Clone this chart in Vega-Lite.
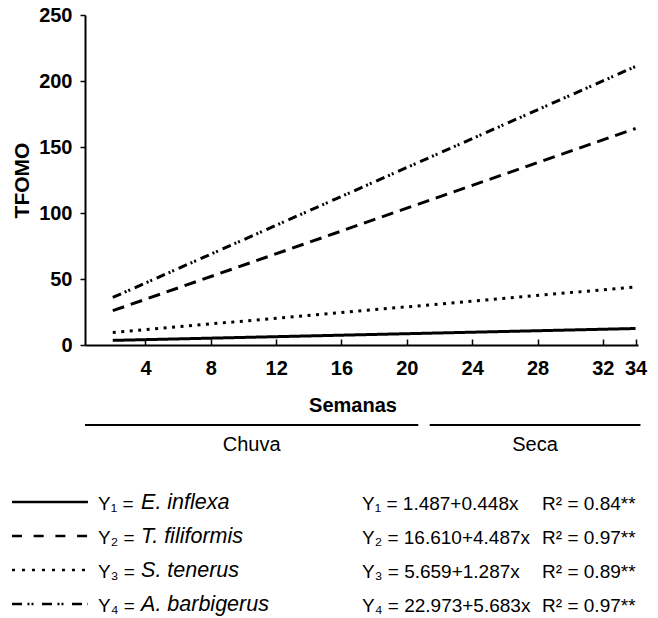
{
  "$schema": "https://vega.github.io/schema/vega-lite/v6.json",
  "width": 658,
  "height": 618,
  "autosize": {"type": "none"},
  "padding": 0,
  "background": "white",
  "config": {"view": {"stroke": null}, "font": "Liberation Sans"},
  "datasets": {
    "linhas": [
      {"serie": "Y1", "semana": 2, "tfomo": 3.5},
      {"serie": "Y1", "semana": 34, "tfomo": 12.5},
      {"serie": "Y2", "semana": 2, "tfomo": 26},
      {"serie": "Y2", "semana": 34, "tfomo": 164},
      {"serie": "Y3", "semana": 2, "tfomo": 9.5},
      {"serie": "Y3", "semana": 34, "tfomo": 44},
      {"serie": "Y4", "semana": 2, "tfomo": 36},
      {"serie": "Y4", "semana": 34, "tfomo": 211}
    ],
    "periodos": [
      {"periodo": "Chuva", "inicio": 0.3, "fim": 20.7, "meio": 10.5},
      {"periodo": "Seca", "inicio": 21.4, "fim": 34.3, "meio": 27.85}
    ],
    "legenda": [
      {"serie": "Y1", "rotulo": "Y₁ =", "especie": "E. inflexa", "equacao": "Y₁ = 1.487+0.448x", "r2": "R² = 0.84**"},
      {"serie": "Y2", "rotulo": "Y₂ =", "especie": "T. filiformis", "equacao": "Y₂ = 16.610+4.487x", "r2": "R² = 0.97**"},
      {"serie": "Y3", "rotulo": "Y₃ =", "especie": "S. tenerus", "equacao": "Y₃ = 5.659+1.287x", "r2": "R² = 0.89**"},
      {"serie": "Y4", "rotulo": "Y₄ =", "especie": "A. barbigerus", "equacao": "Y₄ = 22.973+5.683x", "r2": "R² = 0.97**"}
    ]
  },
  "layer": [
    {
      "data": {"name": "linhas"},
      "mark": {"type": "line", "color": "black", "strokeWidth": 3, "strokeCap": "butt"},
      "encoding": {
        "x": {
          "field": "semana", "type": "quantitative", "title": "Semanas",
          "scale": {"domain": [0.3, 34.15], "range": [85, 638], "nice": false, "zero": false},
          "axis": {
            "orient": "bottom", "offset": -273, "values": [4, 8, 12, 16, 20, 24, 28, 32, 34],
            "grid": false, "tickSize": -6, "tickWidth": 1.5, "tickColor": "black",
            "domainColor": "black", "domainWidth": 2,
            "labelFont": "Liberation Sans", "labelFontWeight": "bold", "labelFontSize": 20, "labelColor": "black",
            "labelPadding": 19, "labelFlush": false, "labelOverlap": false,
            "titleFont": "Liberation Sans", "titleFontWeight": "bold", "titleFontSize": 20, "titleColor": "black",
            "titlePadding": 17, "titleX": 352.5, "titleAlign": "center"
          }
        },
        "y": {
          "field": "tfomo", "type": "quantitative", "title": "TFOMO",
          "scale": {"domain": [0, 250], "range": [345, 15], "nice": false},
          "axis": {
            "orient": "left", "offset": -85, "values": [0, 50, 100, 150, 200, 250],
            "grid": false, "tickSize": 5, "tickWidth": 1.5, "tickColor": "black",
            "domainColor": "black", "domainWidth": 2,
            "labelFont": "Liberation Sans", "labelFontWeight": "bold", "labelFontSize": 20, "labelColor": "black",
            "labelPadding": 8,
            "titleFont": "Liberation Sans", "titleFontWeight": "bold", "titleFontSize": 21, "titleColor": "black",
            "titlePadding": 6
          }
        },
        "detail": {"field": "serie"},
        "strokeDash": {
          "field": "serie", "type": "nominal", "legend": null,
          "scale": {"domain": ["Y1", "Y2", "Y3", "Y4"], "range": [[1, 0], [12, 7], [3, 5.5], [9, 4, 2, 2, 2, 5]]}
        }
      }
    },
    {
      "data": {"name": "periodos"},
      "mark": {"type": "rule", "color": "black", "strokeWidth": 2},
      "encoding": {
        "x": {"field": "inicio", "type": "quantitative", "title": "Semanas"},
        "x2": {"field": "fim"},
        "y": {"datum": 0, "type": "quantitative", "scale": {"domain": [0, 1], "range": [425, 445]}, "axis": null}
      }
    },
    {
      "data": {"name": "periodos"},
      "mark": {"type": "text", "font": "Liberation Sans", "fontSize": 20, "color": "black", "align": "center", "baseline": "middle"},
      "encoding": {
        "x": {"field": "meio", "type": "quantitative", "title": "Semanas"},
        "y": {"datum": 1, "type": "quantitative", "scale": {"domain": [0, 1], "range": [425, 445]}, "axis": null},
        "text": {"field": "periodo"}
      }
    },
    {
      "data": {"name": "legenda"},
      "mark": {"type": "rule", "color": "black", "strokeWidth": 2.5, "strokeCap": "butt"},
      "encoding": {
        "x": {"datum": -4.17, "type": "quantitative"},
        "x2": {"datum": 0.48},
        "y": {"field": "serie", "type": "nominal", "scale": {"type": "point", "range": [502, 604], "padding": 0}, "axis": null},
        "strokeDash": {
          "field": "serie", "type": "nominal", "legend": null,
          "scale": {"domain": ["Y1", "Y2", "Y3", "Y4"], "range": [[1, 0], [10, 11.7], [3, 7], [10, 5.5, 2, 2, 2, 8.5]]}
        }
      }
    },
    {
      "data": {"name": "legenda"},
      "mark": {"type": "text", "font": "Liberation Sans", "fontSize": 19, "color": "black", "align": "left", "baseline": "middle"},
      "encoding": {
        "x": {"datum": 1.1, "type": "quantitative"},
        "y": {"field": "serie", "type": "nominal", "scale": {"type": "point", "range": [504, 606], "padding": 0}, "axis": null},
        "text": {"field": "rotulo"}
      }
    },
    {
      "data": {"name": "legenda"},
      "mark": {"type": "text", "font": "Liberation Sans", "fontSize": 21.5, "fontStyle": "italic", "color": "black", "align": "left", "baseline": "middle"},
      "encoding": {
        "x": {"datum": 3.73, "type": "quantitative"},
        "y": {"field": "serie", "type": "nominal", "scale": {"type": "point", "range": [503, 605], "padding": 0}, "axis": null},
        "text": {"field": "especie"}
      }
    },
    {
      "data": {"name": "legenda"},
      "mark": {"type": "text", "font": "Liberation Sans", "fontSize": 19, "color": "black", "align": "left", "baseline": "middle"},
      "encoding": {
        "x": {"datum": 17.26, "type": "quantitative"},
        "y": {"field": "serie", "type": "nominal", "scale": {"type": "point", "range": [504, 606], "padding": 0}, "axis": null},
        "text": {"field": "equacao"}
      }
    },
    {
      "data": {"name": "legenda"},
      "mark": {"type": "text", "font": "Liberation Sans", "fontSize": 19, "color": "black", "align": "left", "baseline": "middle"},
      "encoding": {
        "x": {"datum": 28.28, "type": "quantitative"},
        "y": {"field": "serie", "type": "nominal", "scale": {"type": "point", "range": [504, 606], "padding": 0}, "axis": null},
        "text": {"field": "r2"}
      }
    }
  ],
  "resolve": {"scale": {"y": "independent", "strokeDash": "independent"}, "axis": {"y": "independent"}}
}
